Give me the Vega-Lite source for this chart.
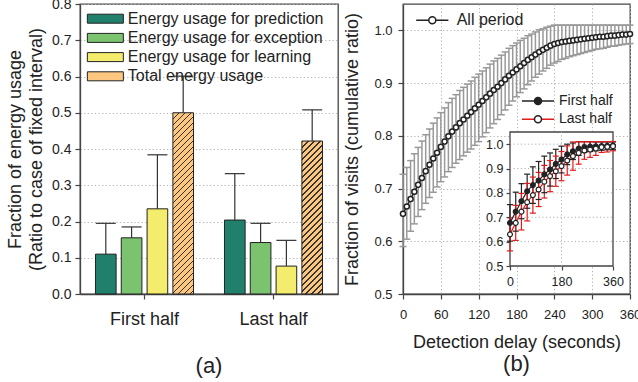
{
"$schema":"https://vega.github.io/schema/vega-lite/v6.json",
"background":"white",
"padding":{"left":5,"top":-4,"right":0,"bottom":0},
"bounds":"flush",
"spacing":65,
"config":{
"font":"Liberation Sans",
"view":{"stroke":"#444","strokeWidth":1.3},
"axis":{"labelColor":"#222","titleColor":"#222","tickColor":"#444","domainColor":"#444","domainWidth":1.3,"tickWidth":1.2,"titleFontWeight":"normal","gridColor":"#b0b0b0","gridDash":[1.2,2.4],"gridWidth":1,"labelFlush":false,"labelOverlap":false},
"legend":{"labelColor":"#222","padding":0,"labelLimit":400},
"title":{"color":"#222","fontWeight":"normal"}
},
"hconcat":[
{
"width":258,"height":290,
"title":{"text":"(a)","orient":"bottom","fontSize":22,"offset":28,"anchor":"middle"},
"data":{"values":[
{"period":"First half","category":"Energy usage for prediction","value":0.110,"upper":0.195},
{"period":"First half","category":"Energy usage for exception","value":0.155,"upper":0.185},
{"period":"First half","category":"Energy usage for learning","value":0.235,"upper":0.384},
{"period":"First half","category":"Total energy usage","value":0.500,"upper":0.601},
{"period":"Last half","category":"Energy usage for prediction","value":0.204,"upper":0.332},
{"period":"Last half","category":"Energy usage for exception","value":0.142,"upper":0.195},
{"period":"Last half","category":"Energy usage for learning","value":0.077,"upper":0.148},
{"period":"Last half","category":"Total energy usage","value":0.422,"upper":0.508}
]},
"encoding":{
"x":{"field":"period","type":"nominal","sort":["First half","Last half"],"scale":{"paddingInner":0,"paddingOuter":0},"axis":{"title":null,"labelAngle":0,"labelFontSize":18,"labelPadding":11,"tickSize":5,"grid":false}},
"xOffset":{"field":"category","type":"nominal","sort":["Energy usage for prediction","Energy usage for exception","Energy usage for learning","Total energy usage"],"scale":{"paddingInner":0.2,"paddingOuter":0.6}}
},
"layer":[
{"mark":{"type":"bar","stroke":"#222","strokeWidth":1,"opacity":1},
"encoding":{
"y":{"field":"value","type":"quantitative","stack":null,"scale":{"domain":[0,0.8],"nice":false},"axis":{"title":["Fraction of energy usage","(Ratio to case of fixed interval)"],"titleFontSize":18,"titleLineHeight":21,"titlePadding":6,"values":[0,0.1,0.2,0.3,0.4,0.5,0.6,0.7,0.8],"format":".1f","labelFontSize":14,"labelPadding":4,"tickSize":5,"grid":true,"labelOverlap":false}},
"fill":{"field":"category","type":"nominal",
"scale":{"domain":["Energy usage for prediction","Energy usage for exception","Energy usage for learning","Total energy usage"],"range":["#21806b","#7cc36f","#f4ec6c","#fdc780"]},
"condition":[
{"test":"datum.category === 'Total energy usage' && datum.period === 'First half'","value":{"gradient":"linear","x1":0,"y1":0,"x2":0.1252,"y2":1.0996,"stops":[
{"offset":0,"color":"#333"},{"offset":0.0064,"color":"#333"},{"offset":0.0064,"color":"#fdc780"},{"offset":0.0297,"color":"#fdc780"},
{"offset":0.0297,"color":"#333"},{"offset":0.0362,"color":"#333"},{"offset":0.0362,"color":"#fdc780"},{"offset":0.0594,"color":"#fdc780"},
{"offset":0.0594,"color":"#333"},{"offset":0.0659,"color":"#333"},{"offset":0.0659,"color":"#fdc780"},{"offset":0.0892,"color":"#fdc780"},
{"offset":0.0892,"color":"#333"},{"offset":0.0956,"color":"#333"},{"offset":0.0956,"color":"#fdc780"},{"offset":0.1189,"color":"#fdc780"},
{"offset":0.1189,"color":"#333"},{"offset":0.1253,"color":"#333"},{"offset":0.1253,"color":"#fdc780"},{"offset":0.1486,"color":"#fdc780"},
{"offset":0.1486,"color":"#333"},{"offset":0.1550,"color":"#333"},{"offset":0.1550,"color":"#fdc780"},{"offset":0.1783,"color":"#fdc780"},
{"offset":0.1783,"color":"#333"},{"offset":0.1848,"color":"#333"},{"offset":0.1848,"color":"#fdc780"},{"offset":0.2080,"color":"#fdc780"},
{"offset":0.2080,"color":"#333"},{"offset":0.2145,"color":"#333"},{"offset":0.2145,"color":"#fdc780"},{"offset":0.2378,"color":"#fdc780"},
{"offset":0.2378,"color":"#333"},{"offset":0.2442,"color":"#333"},{"offset":0.2442,"color":"#fdc780"},{"offset":0.2675,"color":"#fdc780"},
{"offset":0.2675,"color":"#333"},{"offset":0.2739,"color":"#333"},{"offset":0.2739,"color":"#fdc780"},{"offset":0.2972,"color":"#fdc780"},
{"offset":0.2972,"color":"#333"},{"offset":0.3036,"color":"#333"},{"offset":0.3036,"color":"#fdc780"},{"offset":0.3269,"color":"#fdc780"},
{"offset":0.3269,"color":"#333"},{"offset":0.3333,"color":"#333"},{"offset":0.3333,"color":"#fdc780"},{"offset":0.3566,"color":"#fdc780"},
{"offset":0.3566,"color":"#333"},{"offset":0.3631,"color":"#333"},{"offset":0.3631,"color":"#fdc780"},{"offset":0.3863,"color":"#fdc780"},
{"offset":0.3863,"color":"#333"},{"offset":0.3928,"color":"#333"},{"offset":0.3928,"color":"#fdc780"},{"offset":0.4161,"color":"#fdc780"},
{"offset":0.4161,"color":"#333"},{"offset":0.4225,"color":"#333"},{"offset":0.4225,"color":"#fdc780"},{"offset":0.4458,"color":"#fdc780"},
{"offset":0.4458,"color":"#333"},{"offset":0.4522,"color":"#333"},{"offset":0.4522,"color":"#fdc780"},{"offset":0.4755,"color":"#fdc780"},
{"offset":0.4755,"color":"#333"},{"offset":0.4819,"color":"#333"},{"offset":0.4819,"color":"#fdc780"},{"offset":0.5052,"color":"#fdc780"},
{"offset":0.5052,"color":"#333"},{"offset":0.5117,"color":"#333"},{"offset":0.5117,"color":"#fdc780"},{"offset":0.5349,"color":"#fdc780"},
{"offset":0.5349,"color":"#333"},{"offset":0.5414,"color":"#333"},{"offset":0.5414,"color":"#fdc780"},{"offset":0.5647,"color":"#fdc780"},
{"offset":0.5647,"color":"#333"},{"offset":0.5711,"color":"#333"},{"offset":0.5711,"color":"#fdc780"},{"offset":0.5944,"color":"#fdc780"},
{"offset":0.5944,"color":"#333"},{"offset":0.6008,"color":"#333"},{"offset":0.6008,"color":"#fdc780"},{"offset":0.6241,"color":"#fdc780"},
{"offset":0.6241,"color":"#333"},{"offset":0.6305,"color":"#333"},{"offset":0.6305,"color":"#fdc780"},{"offset":0.6538,"color":"#fdc780"},
{"offset":0.6538,"color":"#333"},{"offset":0.6602,"color":"#333"},{"offset":0.6602,"color":"#fdc780"},{"offset":0.6835,"color":"#fdc780"},
{"offset":0.6835,"color":"#333"},{"offset":0.6900,"color":"#333"},{"offset":0.6900,"color":"#fdc780"},{"offset":0.7133,"color":"#fdc780"},
{"offset":0.7133,"color":"#333"},{"offset":0.7197,"color":"#333"},{"offset":0.7197,"color":"#fdc780"},{"offset":0.7430,"color":"#fdc780"},
{"offset":0.7430,"color":"#333"},{"offset":0.7494,"color":"#333"},{"offset":0.7494,"color":"#fdc780"},{"offset":0.7727,"color":"#fdc780"},
{"offset":0.7727,"color":"#333"},{"offset":0.7791,"color":"#333"},{"offset":0.7791,"color":"#fdc780"},{"offset":0.8024,"color":"#fdc780"},
{"offset":0.8024,"color":"#333"},{"offset":0.8088,"color":"#333"},{"offset":0.8088,"color":"#fdc780"},{"offset":0.8321,"color":"#fdc780"},
{"offset":0.8321,"color":"#333"},{"offset":0.8386,"color":"#333"},{"offset":0.8386,"color":"#fdc780"},{"offset":0.8619,"color":"#fdc780"},
{"offset":0.8619,"color":"#333"},{"offset":0.8683,"color":"#333"},{"offset":0.8683,"color":"#fdc780"},{"offset":0.8916,"color":"#fdc780"},
{"offset":0.8916,"color":"#333"},{"offset":0.8980,"color":"#333"},{"offset":0.8980,"color":"#fdc780"},{"offset":0.9213,"color":"#fdc780"},
{"offset":0.9213,"color":"#333"},{"offset":0.9277,"color":"#333"},{"offset":0.9277,"color":"#fdc780"},{"offset":0.9510,"color":"#fdc780"},
{"offset":0.9510,"color":"#333"},{"offset":0.9574,"color":"#333"},{"offset":0.9574,"color":"#fdc780"},{"offset":0.9807,"color":"#fdc780"},
{"offset":0.9807,"color":"#333"},{"offset":0.9872,"color":"#333"},{"offset":0.9872,"color":"#fdc780"},{"offset":1,"color":"#fdc780"}
]}},
{"test":"datum.category === 'Total energy usage' && datum.period === 'Last half'","value":{"gradient":"linear","x1":0,"y1":0,"x2":0.1504,"y2":1.1145,"stops":[
{"offset":0,"color":"#333"},{"offset":0.0075,"color":"#333"},{"offset":0.0075,"color":"#fdc780"},{"offset":0.0346,"color":"#fdc780"},
{"offset":0.0346,"color":"#333"},{"offset":0.0420,"color":"#333"},{"offset":0.0420,"color":"#fdc780"},{"offset":0.0691,"color":"#fdc780"},
{"offset":0.0691,"color":"#333"},{"offset":0.0766,"color":"#333"},{"offset":0.0766,"color":"#fdc780"},{"offset":0.1037,"color":"#fdc780"},
{"offset":0.1037,"color":"#333"},{"offset":0.1112,"color":"#333"},{"offset":0.1112,"color":"#fdc780"},{"offset":0.1382,"color":"#fdc780"},
{"offset":0.1382,"color":"#333"},{"offset":0.1457,"color":"#333"},{"offset":0.1457,"color":"#fdc780"},{"offset":0.1728,"color":"#fdc780"},
{"offset":0.1728,"color":"#333"},{"offset":0.1803,"color":"#333"},{"offset":0.1803,"color":"#fdc780"},{"offset":0.2074,"color":"#fdc780"},
{"offset":0.2074,"color":"#333"},{"offset":0.2148,"color":"#333"},{"offset":0.2148,"color":"#fdc780"},{"offset":0.2419,"color":"#fdc780"},
{"offset":0.2419,"color":"#333"},{"offset":0.2494,"color":"#333"},{"offset":0.2494,"color":"#fdc780"},{"offset":0.2765,"color":"#fdc780"},
{"offset":0.2765,"color":"#333"},{"offset":0.2840,"color":"#333"},{"offset":0.2840,"color":"#fdc780"},{"offset":0.3111,"color":"#fdc780"},
{"offset":0.3111,"color":"#333"},{"offset":0.3185,"color":"#333"},{"offset":0.3185,"color":"#fdc780"},{"offset":0.3456,"color":"#fdc780"},
{"offset":0.3456,"color":"#333"},{"offset":0.3531,"color":"#333"},{"offset":0.3531,"color":"#fdc780"},{"offset":0.3802,"color":"#fdc780"},
{"offset":0.3802,"color":"#333"},{"offset":0.3877,"color":"#333"},{"offset":0.3877,"color":"#fdc780"},{"offset":0.4147,"color":"#fdc780"},
{"offset":0.4147,"color":"#333"},{"offset":0.4222,"color":"#333"},{"offset":0.4222,"color":"#fdc780"},{"offset":0.4493,"color":"#fdc780"},
{"offset":0.4493,"color":"#333"},{"offset":0.4568,"color":"#333"},{"offset":0.4568,"color":"#fdc780"},{"offset":0.4839,"color":"#fdc780"},
{"offset":0.4839,"color":"#333"},{"offset":0.4914,"color":"#333"},{"offset":0.4914,"color":"#fdc780"},{"offset":0.5184,"color":"#fdc780"},
{"offset":0.5184,"color":"#333"},{"offset":0.5259,"color":"#333"},{"offset":0.5259,"color":"#fdc780"},{"offset":0.5530,"color":"#fdc780"},
{"offset":0.5530,"color":"#333"},{"offset":0.5605,"color":"#333"},{"offset":0.5605,"color":"#fdc780"},{"offset":0.5876,"color":"#fdc780"},
{"offset":0.5876,"color":"#333"},{"offset":0.5950,"color":"#333"},{"offset":0.5950,"color":"#fdc780"},{"offset":0.6221,"color":"#fdc780"},
{"offset":0.6221,"color":"#333"},{"offset":0.6296,"color":"#333"},{"offset":0.6296,"color":"#fdc780"},{"offset":0.6567,"color":"#fdc780"},
{"offset":0.6567,"color":"#333"},{"offset":0.6642,"color":"#333"},{"offset":0.6642,"color":"#fdc780"},{"offset":0.6912,"color":"#fdc780"},
{"offset":0.6912,"color":"#333"},{"offset":0.6987,"color":"#333"},{"offset":0.6987,"color":"#fdc780"},{"offset":0.7258,"color":"#fdc780"},
{"offset":0.7258,"color":"#333"},{"offset":0.7333,"color":"#333"},{"offset":0.7333,"color":"#fdc780"},{"offset":0.7604,"color":"#fdc780"},
{"offset":0.7604,"color":"#333"},{"offset":0.7678,"color":"#333"},{"offset":0.7678,"color":"#fdc780"},{"offset":0.7949,"color":"#fdc780"},
{"offset":0.7949,"color":"#333"},{"offset":0.8024,"color":"#333"},{"offset":0.8024,"color":"#fdc780"},{"offset":0.8295,"color":"#fdc780"},
{"offset":0.8295,"color":"#333"},{"offset":0.8370,"color":"#333"},{"offset":0.8370,"color":"#fdc780"},{"offset":0.8641,"color":"#fdc780"},
{"offset":0.8641,"color":"#333"},{"offset":0.8715,"color":"#333"},{"offset":0.8715,"color":"#fdc780"},{"offset":0.8986,"color":"#fdc780"},
{"offset":0.8986,"color":"#333"},{"offset":0.9061,"color":"#333"},{"offset":0.9061,"color":"#fdc780"},{"offset":0.9332,"color":"#fdc780"},
{"offset":0.9332,"color":"#333"},{"offset":0.9407,"color":"#333"},{"offset":0.9407,"color":"#fdc780"},{"offset":0.9677,"color":"#fdc780"},
{"offset":0.9677,"color":"#333"},{"offset":0.9752,"color":"#333"},{"offset":0.9752,"color":"#fdc780"},{"offset":1,"color":"#fdc780"}
]}}
],
"legend":{"title":null,"orient":"none","legendX":15.85,"legendY":5.2,"symbolType":"M-2,-0.5H2V0.5H-2Z","symbolSize":324,"symbolStrokeColor":"#222","symbolStrokeWidth":1,"labelFontSize":16,"labelOffset":13,"labelLimit":400,"rowPadding":1.2,
"encode":{"symbols":{"update":{"opacity":{"value":1},"fill":[
{"test":"datum.value === 'Energy usage for prediction'","value":"#21806b"},
{"test":"datum.value === 'Energy usage for exception'","value":"#7cc36f"},
{"test":"datum.value === 'Energy usage for learning'","value":"#f4ec6c"},
{"value":{"gradient":"linear","x1":0,"y1":0,"x2":1.1765,"y2":0.2941,"stops":[
{"offset":0,"color":"#333"},{"offset":0.0289,"color":"#333"},{"offset":0.0289,"color":"#fdc780"},{"offset":0.1333,"color":"#fdc780"},
{"offset":0.1333,"color":"#333"},{"offset":0.1622,"color":"#333"},{"offset":0.1622,"color":"#fdc780"},{"offset":0.2667,"color":"#fdc780"},
{"offset":0.2667,"color":"#333"},{"offset":0.2956,"color":"#333"},{"offset":0.2956,"color":"#fdc780"},{"offset":0.4,"color":"#fdc780"},
{"offset":0.4,"color":"#333"},{"offset":0.4289,"color":"#333"},{"offset":0.4289,"color":"#fdc780"},{"offset":0.5333,"color":"#fdc780"},
{"offset":0.5333,"color":"#333"},{"offset":0.5622,"color":"#333"},{"offset":0.5622,"color":"#fdc780"},{"offset":0.6667,"color":"#fdc780"},
{"offset":0.6667,"color":"#333"},{"offset":0.6956,"color":"#333"},{"offset":0.6956,"color":"#fdc780"},{"offset":0.8,"color":"#fdc780"},
{"offset":0.8,"color":"#333"},{"offset":0.8289,"color":"#333"},{"offset":0.8289,"color":"#fdc780"},{"offset":0.9333,"color":"#fdc780"},
{"offset":0.9333,"color":"#333"},{"offset":0.9622,"color":"#333"},{"offset":0.9622,"color":"#fdc780"},{"offset":1,"color":"#fdc780"}
]}}
]}}}}
}
}},
{"mark":{"type":"rule","color":"#333","strokeWidth":1.2},
"encoding":{
"y":{"field":"value","type":"quantitative","stack":null,"scale":{"domain":[0,0.8],"nice":false},"axis":{"title":["Fraction of energy usage","(Ratio to case of fixed interval)"],"titleFontSize":18,"titleLineHeight":21,"titlePadding":6,"values":[0,0.1,0.2,0.3,0.4,0.5,0.6,0.7,0.8],"format":".1f","labelFontSize":14,"labelPadding":4,"tickSize":5,"grid":true,"labelOverlap":false}},
"y2":{"field":"upper"}}},
{"mark":{"type":"tick","color":"#333","thickness":1.2,"size":20,"orient":"horizontal","opacity":1},
"encoding":{
"y":{"field":"upper","type":"quantitative","stack":null,"scale":{"domain":[0,0.8],"nice":false},"axis":{"title":["Fraction of energy usage","(Ratio to case of fixed interval)"],"titleFontSize":18,"titleLineHeight":21,"titlePadding":6,"values":[0,0.1,0.2,0.3,0.4,0.5,0.6,0.7,0.8],"format":".1f","labelFontSize":14,"labelPadding":4,"tickSize":5,"grid":true,"labelOverlap":false}}}}
]
},
{
"width":227,"height":290,
"title":{"text":"(b)","orient":"bottom","fontSize":22,"offset":3,"anchor":"middle"},
"layer":[
{
"data":{"values":[
{"t":0,"v":0.652,"lo":0.590,"hi":0.727},{"t":6,"v":0.666,"lo":0.604,"hi":0.740},{"t":12,"v":0.680,"lo":0.619,"hi":0.753},{"t":18,"v":0.694,"lo":0.633,"hi":0.766},
{"t":24,"v":0.707,"lo":0.647,"hi":0.778},{"t":30,"v":0.720,"lo":0.660,"hi":0.790},{"t":36,"v":0.733,"lo":0.672,"hi":0.802},{"t":42,"v":0.745,"lo":0.683,"hi":0.813},
{"t":48,"v":0.757,"lo":0.693,"hi":0.824},{"t":54,"v":0.768,"lo":0.703,"hi":0.834},{"t":60,"v":0.779,"lo":0.713,"hi":0.844},{"t":66,"v":0.789,"lo":0.722,"hi":0.853},
{"t":72,"v":0.799,"lo":0.732,"hi":0.863},{"t":78,"v":0.808,"lo":0.740,"hi":0.871},{"t":84,"v":0.816,"lo":0.748,"hi":0.878},{"t":90,"v":0.824,"lo":0.755,"hi":0.886},
{"t":96,"v":0.831,"lo":0.762,"hi":0.892},{"t":102,"v":0.838,"lo":0.769,"hi":0.898},{"t":108,"v":0.845,"lo":0.775,"hi":0.904},{"t":114,"v":0.852,"lo":0.782,"hi":0.911},
{"t":120,"v":0.859,"lo":0.789,"hi":0.917},{"t":126,"v":0.866,"lo":0.798,"hi":0.923},{"t":132,"v":0.873,"lo":0.806,"hi":0.929},{"t":138,"v":0.880,"lo":0.815,"hi":0.936},
{"t":144,"v":0.887,"lo":0.823,"hi":0.942},{"t":150,"v":0.893,"lo":0.831,"hi":0.947},{"t":156,"v":0.900,"lo":0.840,"hi":0.953},{"t":162,"v":0.907,"lo":0.849,"hi":0.959},
{"t":168,"v":0.914,"lo":0.858,"hi":0.966},{"t":174,"v":0.920,"lo":0.866,"hi":0.971},{"t":180,"v":0.926,"lo":0.874,"hi":0.976},{"t":186,"v":0.932,"lo":0.882,"hi":0.981},
{"t":192,"v":0.938,"lo":0.889,"hi":0.985},{"t":198,"v":0.944,"lo":0.897,"hi":0.990},{"t":204,"v":0.949,"lo":0.904,"hi":0.993},{"t":210,"v":0.954,"lo":0.911,"hi":0.997},
{"t":216,"v":0.959,"lo":0.917,"hi":1.001},{"t":222,"v":0.963,"lo":0.923,"hi":1.003},{"t":228,"v":0.967,"lo":0.928,"hi":1.006},{"t":234,"v":0.971,"lo":0.934,"hi":1.008},
{"t":240,"v":0.974,"lo":0.938,"hi":1.010},{"t":246,"v":0.976,"lo":0.941,"hi":1.010},{"t":252,"v":0.978,"lo":0.945,"hi":1.010},{"t":258,"v":0.979,"lo":0.947,"hi":1.010},
{"t":264,"v":0.980,"lo":0.950,"hi":1.010},{"t":270,"v":0.981,"lo":0.952,"hi":1.010},{"t":276,"v":0.982,"lo":0.954,"hi":1.010},{"t":282,"v":0.983,"lo":0.956,"hi":1.010},
{"t":288,"v":0.984,"lo":0.958,"hi":1.010},{"t":294,"v":0.985,"lo":0.960,"hi":1.010},{"t":300,"v":0.986,"lo":0.962,"hi":1.010},{"t":306,"v":0.987,"lo":0.964,"hi":1.010},
{"t":312,"v":0.988,"lo":0.965,"hi":1.010},{"t":318,"v":0.988,"lo":0.966,"hi":1.010},{"t":324,"v":0.989,"lo":0.968,"hi":1.010},{"t":330,"v":0.990,"lo":0.970,"hi":1.010},
{"t":336,"v":0.990,"lo":0.970,"hi":1.010},{"t":342,"v":0.991,"lo":0.972,"hi":1.010},{"t":348,"v":0.992,"lo":0.973,"hi":1.010},{"t":354,"v":0.992,"lo":0.974,"hi":1.010},
{"t":360,"v":0.993,"lo":0.975,"hi":1.010}
]},
"encoding":{"x":{"field":"t","type":"quantitative","scale":{"domain":[0,360],"nice":false},"axis":{"values":[0,60,120,180,240,300,360],"title":"Detection delay (seconds)","titleFontSize":18,"titlePadding":12,"labelFontSize":13,"labelPadding":9,"tickSize":5,"grid":true}}},
"layer":[
{"mark":{"type":"rule","color":"#999","strokeWidth":1.5},
"encoding":{"y":{"field":"lo","type":"quantitative","scale":{"domain":[0.5,1.05],"nice":false,"zero":false},"axis":{"values":[0.5,0.6,0.7,0.8,0.9,1.0],"format":".1f","title":"Fraction of visits (cumulative ratio)","titleFontSize":18,"titlePadding":12,"labelFontSize":13,"labelPadding":6,"tickSize":5,"grid":true}},"y2":{"field":"hi"}}},
{"mark":{"type":"tick","color":"#999","orient":"horizontal","size":7,"thickness":1.5,"opacity":1},"encoding":{"y":{"field":"lo","type":"quantitative"}}},
{"mark":{"type":"tick","color":"#999","orient":"horizontal","size":7,"thickness":1.5,"opacity":1},"encoding":{"y":{"field":"hi","type":"quantitative"}}},
{"mark":{"type":"line","strokeWidth":1.5},"encoding":{"y":{"field":"v","type":"quantitative"},
"color":{"datum":"All period","type":"nominal","scale":{"domain":["All period"],"range":["#222"]},
"legend":{"title":null,"orient":"none","legendX":21.3,"legendY":8.3,"symbolType":"M-2.3,0H-0.5M0.5,0H2.3M-0.5,0A0.5,0.5,0,1,1,0.5,0A0.5,0.5,0,1,1,-0.5,0","symbolSize":196,"symbolStrokeWidth":1.5,"labelFontSize":16,"labelOffset":16.4,
"encode":{"symbols":{"update":{"fill":{"value":"white"},"stroke":{"value":"#222"},"opacity":{"value":1}}}}}}}},
{"mark":{"type":"point","shape":"circle","filled":true,"fill":"white","stroke":"#222","strokeWidth":1.5,"size":26,"opacity":1},"encoding":{"y":{"field":"v","type":"quantitative"}}}
]
},
{
"data":{"values":[
{"t":0,"half":"First half","v":0.677,"lo":0.602,"hi":0.752},{"t":20,"half":"First half","v":0.723,"lo":0.643,"hi":0.803},{"t":40,"half":"First half","v":0.766,"lo":0.694,"hi":0.838},
{"t":60,"half":"First half","v":0.807,"lo":0.737,"hi":0.877},{"t":80,"half":"First half","v":0.832,"lo":0.757,"hi":0.907},{"t":100,"half":"First half","v":0.851,"lo":0.773,"hi":0.929},
{"t":120,"half":"First half","v":0.876,"lo":0.801,"hi":0.951},{"t":140,"half":"First half","v":0.896,"lo":0.828,"hi":0.964},{"t":160,"half":"First half","v":0.919,"lo":0.859,"hi":0.979},
{"t":180,"half":"First half","v":0.937,"lo":0.882,"hi":0.992},{"t":200,"half":"First half","v":0.958,"lo":0.916,"hi":1.000},{"t":220,"half":"First half","v":0.971,"lo":0.937,"hi":1.005},
{"t":240,"half":"First half","v":0.982,"lo":0.954,"hi":1.010},{"t":260,"half":"First half","v":0.988,"lo":0.966,"hi":1.010},{"t":280,"half":"First half","v":0.990,"lo":0.970,"hi":1.010},
{"t":300,"half":"First half","v":0.991,"lo":0.973,"hi":1.009},{"t":320,"half":"First half","v":0.992,"lo":0.975,"hi":1.009},{"t":340,"half":"First half","v":0.993,"lo":0.977,"hi":1.009},
{"t":360,"half":"First half","v":0.994,"lo":0.979,"hi":1.009},
{"t":0,"half":"Last half","v":0.630,"lo":0.562,"hi":0.698},{"t":20,"half":"Last half","v":0.677,"lo":0.605,"hi":0.749},{"t":40,"half":"Last half","v":0.723,"lo":0.648,"hi":0.798},
{"t":60,"half":"Last half","v":0.762,"lo":0.685,"hi":0.839},{"t":80,"half":"Last half","v":0.791,"lo":0.717,"hi":0.865},{"t":100,"half":"Last half","v":0.814,"lo":0.744,"hi":0.884},
{"t":120,"half":"Last half","v":0.846,"lo":0.779,"hi":0.913},{"t":140,"half":"Last half","v":0.869,"lo":0.805,"hi":0.933},{"t":160,"half":"Last half","v":0.889,"lo":0.827,"hi":0.951},
{"t":180,"half":"Last half","v":0.910,"lo":0.850,"hi":0.970},{"t":200,"half":"Last half","v":0.933,"lo":0.873,"hi":0.993},{"t":220,"half":"Last half","v":0.951,"lo":0.893,"hi":1.009},
{"t":240,"half":"Last half","v":0.964,"lo":0.918,"hi":1.010},{"t":260,"half":"Last half","v":0.974,"lo":0.938,"hi":1.010},{"t":280,"half":"Last half","v":0.978,"lo":0.946,"hi":1.010},
{"t":300,"half":"Last half","v":0.982,"lo":0.954,"hi":1.010},{"t":320,"half":"Last half","v":0.988,"lo":0.966,"hi":1.010},{"t":340,"half":"Last half","v":0.989,"lo":0.968,"hi":1.010},
{"t":360,"half":"Last half","v":0.992,"lo":0.973,"hi":1.011}
]},
"layer":[
{"data":{"values":[{}]},"mark":{"type":"rect","fill":"white","stroke":"#444","strokeWidth":1.3},
"encoding":{"x":{"datum":0,"type":"quantitative"},"x2":{"datum":360},"y":{"datum":0.5,"type":"quantitative"},"y2":{"datum":1.05}}},
{"data":{"values":[{"g":0.6},{"g":0.7},{"g":0.8},{"g":0.9},{"g":1.0}]},"mark":{"type":"rule","color":"#b0b0b0","strokeDash":[1.2,2.4],"strokeWidth":1},
"encoding":{"y":{"field":"g","type":"quantitative"},"x":{"datum":0,"type":"quantitative"},"x2":{"datum":360}}},
{"data":{"values":[{"g":180}]},"mark":{"type":"rule","color":"#b0b0b0","strokeDash":[1.2,2.4],"strokeWidth":1},
"encoding":{"x":{"field":"g","type":"quantitative"},"y":{"datum":0.5,"type":"quantitative"},"y2":{"datum":1.05}}},
{"mark":{"type":"rule","strokeWidth":1.2},
"encoding":{
"x":{"field":"t","type":"quantitative","scale":{"domain":[0,360],"range":[107,210],"nice":false},"axis":{"orient":"bottom","offset":-28,"values":[0,180,360],"title":null,"labelFontSize":12.5,"labelPadding":5,"tickSize":4,"grid":false,"domain":false,"zindex":1}},
"y":{"field":"lo","type":"quantitative","scale":{"domain":[0.5,1.05],"range":[262,128],"nice":false,"zero":false},"axis":{"orient":"left","offset":-107,"values":[0.5,0.6,0.7,0.8,0.9,1.0],"format":".1f","title":null,"labelFontSize":12.5,"labelPadding":3,"tickSize":4,"grid":false,"domain":false,"zindex":1}},
"y2":{"field":"hi"},
"color":{"field":"half","type":"nominal","scale":{"domain":["First half","Last half"],"range":["#222","#e41a1c"]},
"legend":{"title":null,"orient":"none","legendX":127,"legendY":89,"symbolType":"M-2.3,0H-0.5M0.5,0H2.3","symbolSize":196,"symbolStrokeWidth":1.5,"labelFontSize":14,"labelOffset":13,"rowPadding":3.3,
"encode":{"symbols":{"update":{"opacity":{"value":1}}}}}}}},
{"mark":{"type":"tick","orient":"horizontal","size":6,"thickness":1.2,"opacity":1},
"encoding":{"x":{"field":"t","type":"quantitative"},"y":{"field":"lo","type":"quantitative"},"color":{"field":"half","type":"nominal",
"legend":{"title":null,"orient":"none","legendX":127,"legendY":89,"symbolType":"M-2.3,0H-0.5M0.5,0H2.3","symbolSize":196,"symbolStrokeWidth":1.5,"labelFontSize":14,"labelOffset":13,"rowPadding":3.3,
"encode":{"symbols":{"update":{"opacity":{"value":1}}}}}}}},
{"mark":{"type":"tick","orient":"horizontal","size":6,"thickness":1.2,"opacity":1},
"encoding":{"x":{"field":"t","type":"quantitative"},"y":{"field":"hi","type":"quantitative"},"color":{"field":"half","type":"nominal",
"legend":{"title":null,"orient":"none","legendX":127,"legendY":89,"symbolType":"M-2.3,0H-0.5M0.5,0H2.3","symbolSize":196,"symbolStrokeWidth":1.5,"labelFontSize":14,"labelOffset":13,"rowPadding":3.3,
"encode":{"symbols":{"update":{"opacity":{"value":1}}}}}}}},
{"mark":{"type":"line","strokeWidth":1.2},
"encoding":{"x":{"field":"t","type":"quantitative"},"y":{"field":"v","type":"quantitative"},"color":{"field":"half","type":"nominal",
"legend":{"title":null,"orient":"none","legendX":127,"legendY":89,"symbolType":"M-2.3,0H-0.5M0.5,0H2.3","symbolSize":196,"symbolStrokeWidth":1.5,"labelFontSize":14,"labelOffset":13,"rowPadding":3.3,
"encode":{"symbols":{"update":{"opacity":{"value":1}}}}}}}},
{"transform":[{"filter":"datum.half === 'First half'"}],
"mark":{"type":"point","shape":"circle","filled":true,"stroke":"#222","strokeWidth":1.2,"size":24,"opacity":1},
"encoding":{"x":{"field":"t","type":"quantitative"},"y":{"field":"v","type":"quantitative"},
"fill":{"field":"half","type":"nominal","scale":{"domain":["Last half","First half"],"range":["white","#222"]},
"legend":{"title":null,"orient":"none","legendX":127,"legendY":89,"values":["First half","Last half"],"symbolType":"M-0.5,0A0.5,0.5,0,1,1,0.5,0A0.5,0.5,0,1,1,-0.5,0","symbolSize":196,"symbolStrokeColor":"#222","symbolStrokeWidth":1.5,"labelExpr":"''","labelFontSize":14,"labelOffset":13,"rowPadding":3.3,
"encode":{"symbols":{"update":{"opacity":{"value":1},"stroke":{"value":"#222"}}}}}}}},
{"transform":[{"filter":"datum.half === 'Last half'"}],
"mark":{"type":"point","shape":"circle","filled":true,"stroke":"#222","strokeWidth":1.2,"size":24,"opacity":1},
"encoding":{"x":{"field":"t","type":"quantitative"},"y":{"field":"v","type":"quantitative"},
"fill":{"field":"half","type":"nominal",
"legend":{"title":null,"orient":"none","legendX":127,"legendY":89,"values":["First half","Last half"],"symbolType":"M-0.5,0A0.5,0.5,0,1,1,0.5,0A0.5,0.5,0,1,1,-0.5,0","symbolSize":196,"symbolStrokeColor":"#222","symbolStrokeWidth":1.5,"labelExpr":"''","labelFontSize":14,"labelOffset":13,"rowPadding":3.3,
"encode":{"symbols":{"update":{"opacity":{"value":1},"stroke":{"value":"#222"}}}}}}}}
]
}
],
"resolve":{"scale":{"x":"independent","y":"independent","color":"independent","fill":"independent"}}
}
]
}
